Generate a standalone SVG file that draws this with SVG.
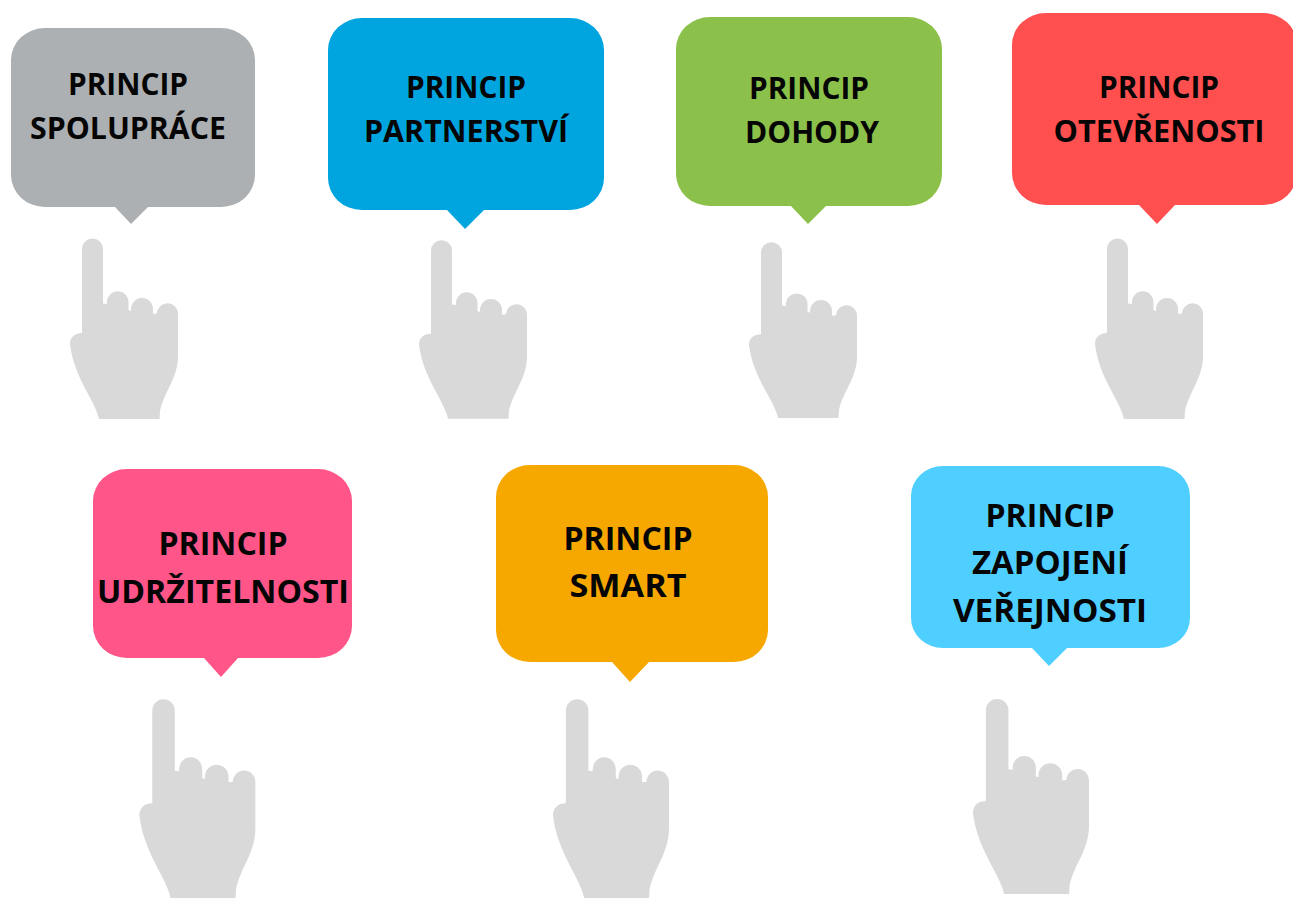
<svg xmlns="http://www.w3.org/2000/svg" width="1293" height="898" viewBox="0 0 1293 898">
<style>
text{font-family:"Open Sans","Noto Sans","Liberation Sans",sans-serif;font-weight:700;fill:#050505;text-anchor:middle}
.a{font-size:30px}
.b{font-size:33px}
.h{fill:#d9d9d9}
</style>
<defs>
<path id="hand" d="M82 333V249A10.500 10.500 0 0 1 103 249V303.500L107 304V302A10.750 10.750 0 0 1 128.500 302V310L131 311V309A11 11 0 0 1 153 309V314L157 313.500A10.500 10.500 0 0 1 178 314V356C178 378 164 392 160 411L159.500 419H99C95 400 74 378 70 344C70 337 75 333 82 333Z"/>
</defs>
<rect width="1293" height="898" fill="#fff"/>
<g id="connectors"></g>
<g id="n1"><path fill="#adb0b2" d="M45 28H221A34 32 0 0 1 255 60V175A34 32 0 0 1 221 207H148L131 224L115 207H45A34 32 0 0 1 11 175V60A34 32 0 0 1 45 28Z"/>
<text class="a" x="128" y="95" textLength="120" lengthAdjust="spacingAndGlyphs">PRINCIP</text><text class="a" x="128" y="139" textLength="196" lengthAdjust="spacingAndGlyphs">SPOLUPRÁCE</text>
<use href="#hand" class="h"/></g>
<g id="n2"><path fill="#00a5df" d="M362 18H570A34 32 0 0 1 604 50V178A34 32 0 0 1 570 210H484L465 229L447 210H362A34 32 0 0 1 328 178V50A34 32 0 0 1 362 18Z"/>
<text class="a" x="466" y="98" textLength="120" lengthAdjust="spacingAndGlyphs">PRINCIP</text><text class="a" x="466" y="142" textLength="204" lengthAdjust="spacingAndGlyphs">PARTNERSTVÍ</text>
<use href="#hand" class="h" transform="translate(349 4.300) scale(1 .989)"/></g>
<g id="n3"><path fill="#8bc04a" d="M710 17H908A34 32 0 0 1 942 49V174A34 32 0 0 1 908 206H826L808 224L791 206H710A34 32 0 0 1 676 174V49A34 32 0 0 1 710 17Z"/>
<text class="a" x="809" y="99" textLength="120" lengthAdjust="spacingAndGlyphs">PRINCIP</text><text class="a" x="812" y="143" textLength="134" lengthAdjust="spacingAndGlyphs">DOHODY</text>
<use href="#hand" class="h" transform="translate(679 10) scale(1 .9735)"/></g>
<g id="n4"><path fill="#ff4f4f" d="M1046 13H1263A34 32 0 0 1 1297 45V173A34 32 0 0 1 1263 205H1175L1157 224L1139 205H1046A34 32 0 0 1 1012 173V45A34 32 0 0 1 1046 13Z"/>
<text class="a" x="1159" y="98" textLength="120" lengthAdjust="spacingAndGlyphs">PRINCIP</text><text class="a" x="1159" y="142" textLength="211" lengthAdjust="spacingAndGlyphs">OTEVŘENOSTI</text>
<use href="#hand" class="h" transform="translate(1025 0)"/></g>
<g id="n5"><path fill="#ff5588" d="M127 469H318A34 32 0 0 1 352 501V626A34 32 0 0 1 318 658H238L221 677L204 658H127A34 32 0 0 1 93 626V501A34 32 0 0 1 127 469Z"/>
<text class="b" x="223" y="555" textLength="129" lengthAdjust="spacingAndGlyphs">PRINCIP</text><text class="b" x="223" y="603" textLength="252" lengthAdjust="spacingAndGlyphs">UDRŽITELNOSTI</text>
<use href="#hand" class="h" transform="translate(64.200 436.600) scale(1.074 1.101)"/></g>
<g id="n6"><path fill="#f7a800" d="M530 465H734A34 32 0 0 1 768 497V630A34 32 0 0 1 734 662H649L630 682L612 662H530A34 32 0 0 1 496 630V497A34 32 0 0 1 530 465Z"/>
<text class="b" x="628" y="550" textLength="129" lengthAdjust="spacingAndGlyphs">PRINCIP</text><text class="b" x="628" y="597" textLength="117" lengthAdjust="spacingAndGlyphs">SMART</text>
<use href="#hand" class="h" transform="translate(477.800 436.600) scale(1.074 1.101)"/></g>
<g id="n7"><path fill="#4fcfff" d="M943 466H1158A32 30 0 0 1 1190 496V618A32 30 0 0 1 1158 648H1067L1049 666L1032 648H943A32 30 0 0 1 911 618V496A32 30 0 0 1 943 466Z"/>
<text class="b" x="1050" y="527" textLength="129" lengthAdjust="spacingAndGlyphs">PRINCIP</text><text class="b" x="1050" y="574" textLength="156" lengthAdjust="spacingAndGlyphs">ZAPOJENÍ</text><text class="b" x="1050" y="622" textLength="194" lengthAdjust="spacingAndGlyphs">VEŘEJNOSTI</text>
<use href="#hand" class="h" transform="translate(897.800 441.400) scale(1.074 1.08)"/></g>
</svg>
